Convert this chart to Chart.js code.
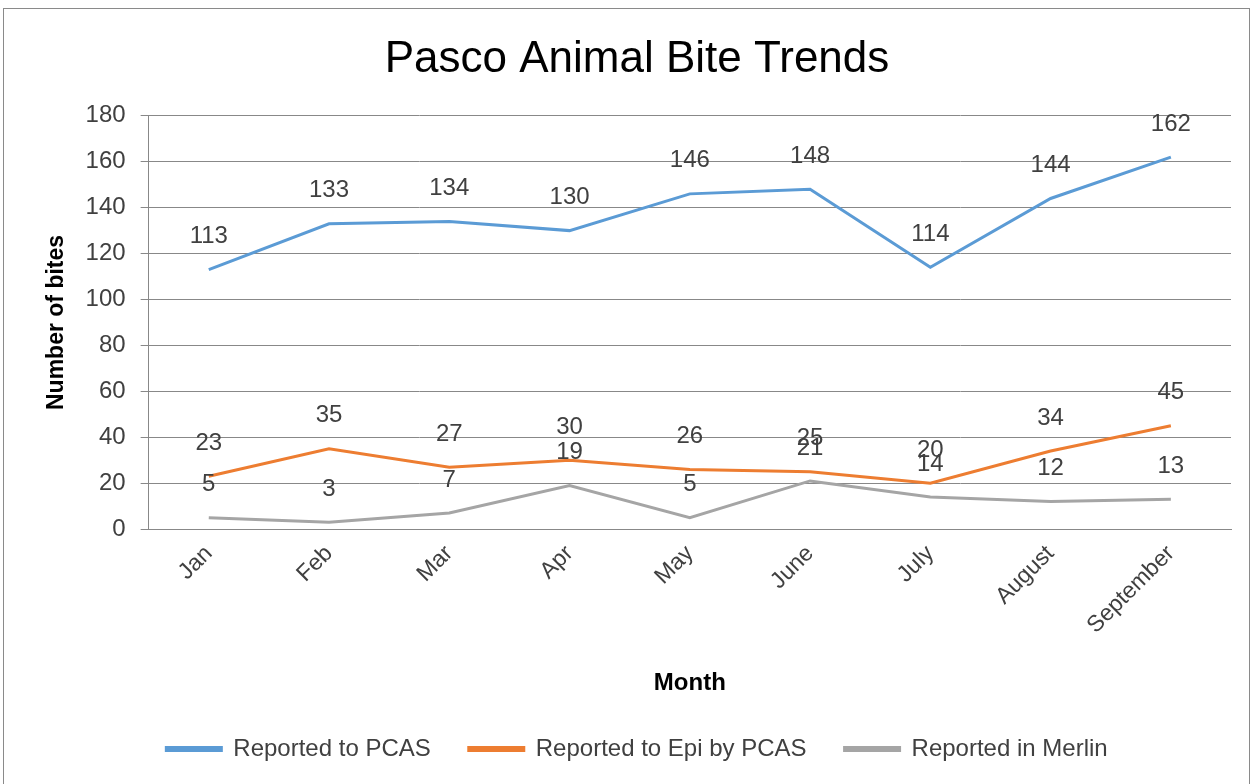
<!DOCTYPE html>
<html>
<head>
<meta charset="utf-8">
<script src="https://cdn.jsdelivr.net/npm/chart.js@4/dist/chart.umd.min.js"></script>
<style>
  html, body { margin: 0; padding: 0; background: #fff; }
  #frame { position: absolute; left: 3px; top: 8px; width: 1247px; height: 790px; border: 1px solid #8a8a8a; box-sizing: border-box; background: #fff; }
  #wrap { position: absolute; left: 0; top: 0; width: 1245px; height: 776px; }
</style>
</head>
<body>
<div id="frame"><div id="wrap"><canvas id="c"></canvas></div></div>
<script>
const months = ["Jan", "Feb", "Mar", "Apr", "May", "June", "July", "August", "September"];
const seriesNames = ["Reported to PCAS", "Reported to Epi by PCAS", "Reported in Merlin"];
const reportedPCAS = [113, 133, 134, 130, 146, 148, 114, 144, 162];
const reportedEpi = [23, 35, 27, 30, 26, 25, 20, 34, 45];
const reportedMerlin = [5, 3, 7, 19, 5, 21, 14, 12, 13];
const yTicks = [0, 20, 40, 60, 80, 100, 120, 140, 160, 180];
const colors = ["#5B9BD5", "#ED7D31", "#A5A5A5"];

const valueLabels = {
  id: 'valueLabels',
  afterDatasetsDraw(chart) {
    const ctx = chart.ctx;
    ctx.save();
    ctx.font = '24px "Liberation Sans", Arial, sans-serif';
    ctx.fillStyle = '#404040';
    ctx.textAlign = 'center';
    ctx.textBaseline = 'middle';
    chart.data.datasets.forEach((ds, i) => {
      const meta = chart.getDatasetMeta(i);
      meta.data.forEach((pt, j) => {
        ctx.fillText(String(ds.data[j]), pt.x, pt.y - 33);
      });
    });
    ctx.restore();
  }
};

const allSeries = [reportedPCAS, reportedEpi, reportedMerlin];
new Chart(document.getElementById('c'), {
  type: 'line',
  data: {
    labels: months,
    datasets: allSeries.map((d, i) => ({
      label: seriesNames[i],
      data: d,
      borderColor: colors[i],
      backgroundColor: colors[i],
      borderWidth: 3,
      pointRadius: 0,
      tension: 0,
      fill: false
    }))
  },
  options: {
    responsive: true,
    maintainAspectRatio: false,
    animation: false,
    layout: { padding: { left: 39, right: 18, top: 8, bottom: 14 } },
    plugins: {
      title: {
        display: true,
        text: 'Pasco Animal Bite Trends',
        color: '#000',
        font: { family: '"Liberation Sans", Arial, sans-serif', size: 44, weight: 'normal' },
        padding: { top: 16, bottom: 30 }
      },
      legend: {
        position: 'bottom',
        labels: {
          color: '#404040',
          boxWidth: 55,
          boxHeight: 3,
          padding: 38,
          font: { family: '"Liberation Sans", Arial, sans-serif', size: 24 }
        }
      },
      tooltip: { enabled: false }
    },
    scales: {
      x: {
        offset: true,
        afterFit(scale) { scale.height += 8; },
        grid: { display: false },
        border: { display: true, color: '#888', width: 1 },
        ticks: {
          maxRotation: 45, minRotation: 45,
          padding: 3,
          color: '#404040',
          font: { family: '"Liberation Sans", Arial, sans-serif', size: 23 }
        },
        title: {
          display: true,
          text: 'Month',
          color: '#000',
          font: { family: '"Liberation Sans", Arial, sans-serif', size: 24, weight: 'bold' },
          padding: { top: 19, bottom: 1 }
        }
      },
      y: {
        min: 0, max: 180,
        afterBuildTicks(scale) { scale.ticks = yTicks.map(v => ({ value: v })); },
        grid: { color: '#888', lineWidth: 1, tickLength: 8, drawTicks: true },
        border: { display: true, color: '#888', width: 1 },
        ticks: {
          color: '#404040',
          padding: 15,
          font: { family: '"Liberation Sans", Arial, sans-serif', size: 24 }
        },
        title: {
          display: true,
          text: 'Number of bites',
          color: '#000',
          font: { family: '"Liberation Sans", Arial, sans-serif', size: 23, weight: 'bold' },
          padding: { top: 0, bottom: 0 }
        }
      }
    }
  },
  plugins: [valueLabels]
});
</script>
</body>
</html>
